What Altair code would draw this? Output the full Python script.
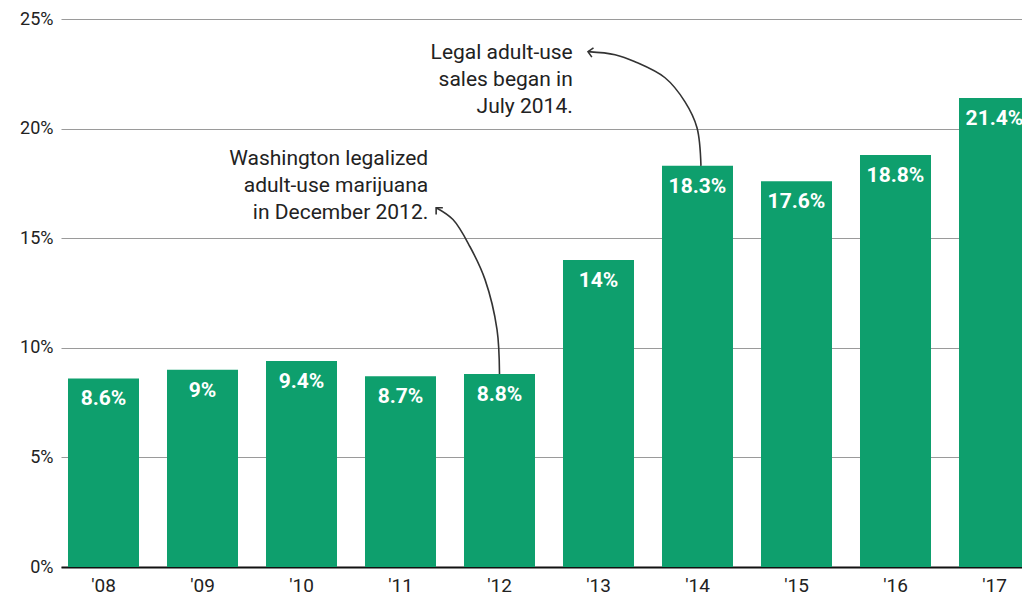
import altair as alt
import pandas as pd

# ---- data ----
years = ["'08", "'09", "'10", "'11", "'12", "'13", "'14", "'15", "'16", "'17"]
shares = [8.6, 9.0, 9.4, 8.7, 8.8, 14.0, 18.3, 17.6, 18.8, 21.4]
share_labels = ["8.6%", "9%", "9.4%", "8.7%", "8.8%", "14%", "18.3%", "17.6%", "18.8%", "21.4%"]
y_ticks = [0, 5, 10, 15, 20, 25]

ann_texts = ["Washington legalized\nadult-use marijuana\nin December 2012.",
             "Legal adult-use\nsales began in\nJuly 2014."]
ann_x = [2011.28, 2012.74]
ann_y = [18.35, 23.17]

# arrow paths (x in year units, y in percent)
arrow1_x = [2012.0, 2011.975, 2011.854, 2011.702, 2011.530, 2011.36]
arrow1_y = [8.8, 10.83, 13.11, 14.61, 15.85, 16.39]
arrow2_x = [2014.035, 2013.995, 2013.874, 2013.672, 2013.369, 2013.167, 2012.894]
arrow2_y = [18.3, 20.04, 21.22, 22.32, 23.05, 23.37, 23.51]
head_angles = [45, 10]

bars = pd.DataFrame({"year": years, "value": shares, "label": share_labels})
ann = pd.DataFrame({"x": ann_x, "value": ann_y, "text": ann_texts})
arrows = pd.DataFrame({
    "x": arrow1_x + arrow2_x,
    "value": arrow1_y + arrow2_y,
    "arrow": ["a"] * len(arrow1_x) + ["b"] * len(arrow2_x),
    "seq": list(range(len(arrow1_x))) + list(range(len(arrow2_x))),
})
heads = pd.DataFrame({"x": [arrow1_x[-1], arrow2_x[-1]],
                      "value": [arrow1_y[-1], arrow2_y[-1]],
                      "angle": head_angles})

GREEN = "#0e9f6d"
TXT = "#222222"
FONT = "Roboto"

x_band = alt.X("year:N", sort=years, title=None,
               scale=alt.Scale(range=[0, 976], paddingInner=0.2828, paddingOuter=0.0707),
               axis=alt.Axis(labelAngle=0, ticks=False, domain=True, domainColor="#111111",
                             domainWidth=2, labelFontSize=19, labelColor=TXT, labelPadding=9,
                             labelFont=FONT))
y_scale = alt.Scale(domain=[0, 25], nice=False, zero=True)
y_enc = alt.Y("value:Q", title=None, scale=y_scale,
              axis=alt.Axis(values=y_ticks, labelExpr="datum.value + '%'", grid=True,
                            gridColor="#9a9a9a", gridWidth=1.2, domain=False, ticks=False,
                            labelFontSize=18, labelColor=TXT, labelPadding=8, labelFont=FONT))

bar_layer = alt.Chart(bars).mark_bar(color=GREEN).encode(x=x_band, y=y_enc)
lab_layer = alt.Chart(bars).mark_text(color="white", font=FONT, fontSize=21, fontWeight="bold",
                                      baseline="alphabetic", dy=27).encode(
    x=x_band, y=y_enc, text="label:N")
base = alt.layer(bar_layer, lab_layer)

x_lin = alt.X("x:Q", title=None, axis=None,
              scale=alt.Scale(domain=[2008, 2017], range=[42.5, 933.5], nice=False, zero=False))

ann_layer = alt.Chart(ann).mark_text(align="right", baseline="alphabetic", font=FONT, fontSize=21,
                                     color=TXT, lineBreak="\n", lineHeight=27).encode(
    x=x_lin, y=y_enc, text="text:N")
arrow_layer = alt.Chart(arrows).mark_line(color="#333333", strokeWidth=1.6,
                                          interpolate="catmull-rom").encode(
    x=x_lin, y=y_enc, detail="arrow:N", order="seq:Q")
head_layer = alt.Chart(heads).mark_point(shape="M1,-1L0,0L1,1", filled=False, color="#333333",
                                         strokeWidth=1.6, size=90, opacity=1).encode(
    x=x_lin, y=y_enc, angle=alt.Angle("angle:Q", scale=None))
notes = alt.layer(ann_layer, arrow_layer, head_layer)

chart = alt.layer(base, notes).resolve_scale(
    x="independent"
).properties(
    width=961, height=548,
    autosize=alt.AutoSizeParams(type="none"),
    padding={"left": 61, "top": 19, "right": 0, "bottom": 28},
).configure(
    font=FONT, background="white"
).configure_view(
    stroke="transparent", strokeWidth=0
)

chart.save("out.html", embed_options={"renderer": "svg", "actions": False})
